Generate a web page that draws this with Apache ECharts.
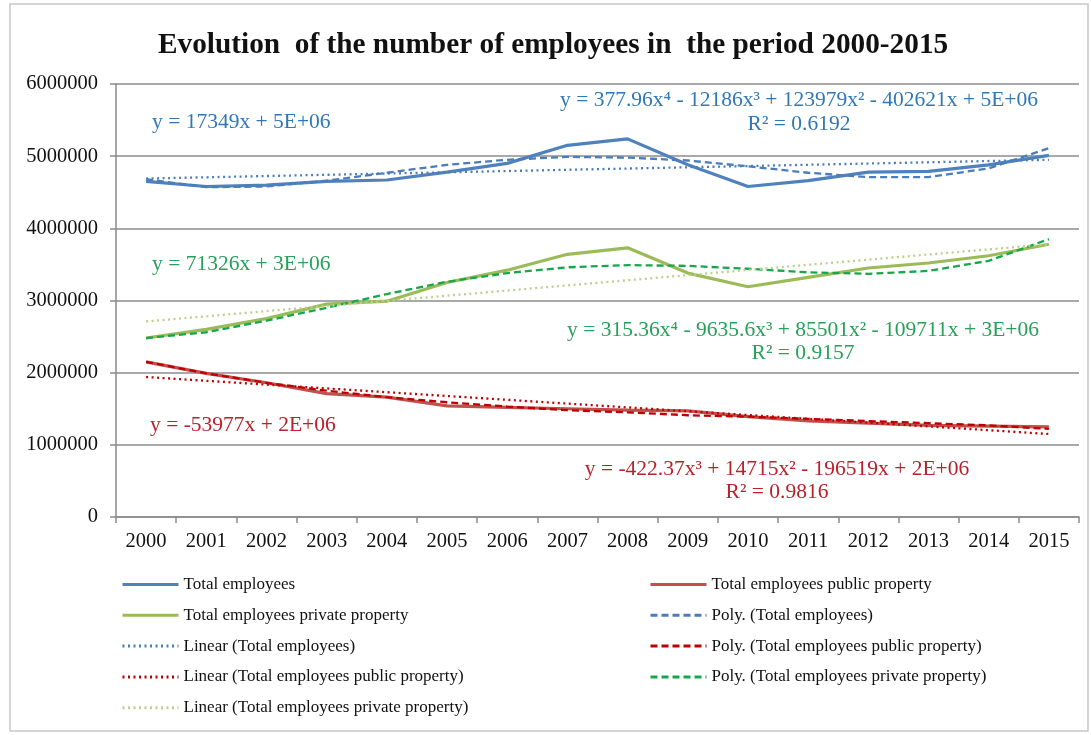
<!DOCTYPE html>
<html>
<head>
<meta charset="utf-8">
<script src="https://cdn.jsdelivr.net/npm/echarts@6/dist/echarts.min.js"></script>
<style>
html,body{margin:0;padding:0;background:#fff;}
#chart{width:1091px;height:735px;}
</style>
</head>
<body>
<div id="chart"></div>
<script>
const years = ['2000','2001','2002','2003','2004','2005','2006','2007','2008','2009','2010','2011','2012','2013','2014','2015'];
const yTicks = [0, 1000000, 2000000, 3000000, 4000000, 5000000, 6000000];

const totalEmployees   = [4650000,4580000,4600000,4650000,4670000,4780000,4900000,5150000,5240000,4880000,4580000,4660000,4780000,4790000,4880000,5010000];
const publicProperty   = [2150000,1990000,1860000,1710000,1660000,1540000,1520000,1500000,1480000,1470000,1390000,1330000,1300000,1270000,1260000,1250000];
const privateProperty  = [2480000,2600000,2750000,2950000,2990000,3250000,3420000,3640000,3730000,3380000,3190000,3320000,3450000,3520000,3620000,3780000];

const polyTotal   = [4680000,4570000,4580000,4660000,4770000,4880000,4950000,4990000,4980000,4940000,4860000,4770000,4710000,4710000,4830000,5110000];
const polyPublic  = [2150000,1990000,1860000,1750000,1660000,1590000,1530000,1480000,1450000,1410000,1390000,1360000,1330000,1300000,1270000,1220000];
const polyPrivate = [2480000,2560000,2720000,2900000,3090000,3260000,3380000,3460000,3490000,3480000,3440000,3390000,3370000,3410000,3550000,3850000];

const linearTotal   = [['2000',4690000],['2015',4950000]];
const linearPublic  = [['2000',1940000],['2015',1150000]];
const linearPrivate = [['2000',2710000],['2015',3780000]];

const eqLinTotal = 'y = 17349x + 5E+06';
const eqPolyTotal = 'y = 377.96x⁴ - 12186x³ + 123979x² - 402621x + 5E+06';
const r2Total = 'R² = 0.6192';
const eqLinPrivate = 'y = 71326x + 3E+06';
const eqPolyPrivate = 'y = 315.36x⁴ - 9635.6x³ + 85501x² - 109711x + 3E+06';
const r2Private = 'R² = 0.9157';
const eqLinPublic = 'y = -53977x + 2E+06';
const eqPolyPublic = 'y = -422.37x³ + 14715x² - 196519x + 2E+06';
const r2Public = 'R² = 0.9816';

const FONT = '"Liberation Serif", "Times New Roman", serif';
const C_BLUE = '#4F81BD', C_RED = '#C0504D', C_GREEN = '#9BBB59';
const C_TBLUE = '#4a7dbb', C_TRED = '#c00000', C_TGREEN = '#14a84a', C_TLGREEN = '#bccf8c';
const T_BLUE = '#2f78b8', T_GREEN = '#27a05a', T_RED = '#b8222a';

function mainLine(name, data, color) {
  return { name, type: 'line', data, symbol: 'none', z: 2,
    lineStyle: { color, width: 3.2 }, itemStyle: { color } };
}
function trend(name, data, color, kind) {
  return { name, type: 'line', data, symbol: 'none', z: 3, silent: true,
    lineStyle: { color, width: 2.3, type: kind === 'dot' ? [2, 3.5] : [7, 4] },
    itemStyle: { color } };
}

const chart = echarts.init(document.getElementById('chart'), null, { renderer: 'canvas' });
const textStyle = { fontFamily: FONT, fontSize: 17, color: '#111' };

function eq(text, x, y, color, align) {
  return { type: 'text', x, y, style: { text, fill: color, font: '21.5px ' + FONT, textAlign: align || 'left', textVerticalAlign: 'middle' }, z: 10 };
}

const legendBase = { orient: 'vertical', top: 576, padding: 0, itemWidth: 56, itemHeight: 14, itemGap: 13.8,
  itemStyle: { opacity: 0 }, lineStyle: { width: 3 }, textStyle };

chart.setOption({
  animation: false,
  backgroundColor: '#fff',
  title: {
    text: 'Evolution  of the number of employees in  the period 2000-2015',
    left: 153, top: 26,
    textStyle: { fontFamily: FONT, fontSize: 29.3, fontWeight: 'bold', color: '#111' }
  },
  grid: { left: 116, right: 12, top: 84, bottom: 218, containLabel: false },
  xAxis: {
    type: 'category', data: years, boundaryGap: true,
    axisLine: { lineStyle: { color: '#8a8a8a', width: 1.5 } },
    axisTick: { show: true, interval: 0, length: 6, lineStyle: { color: '#8a8a8a', width: 1.5 } },
    axisLabel: { interval: 0, margin: 14, fontFamily: FONT, fontSize: 20.5, color: '#111' },
    splitLine: { show: false }
  },
  yAxis: {
    type: 'value', min: yTicks[0], max: yTicks[yTicks.length - 1], interval: yTicks[1] - yTicks[0],
    axisLine: { show: true, lineStyle: { color: '#8a8a8a', width: 1.5 } },
    axisTick: { show: true, length: 6, lineStyle: { color: '#8a8a8a', width: 1.5 } },
    axisLabel: { margin: 18, fontFamily: FONT, fontSize: 20.5, color: '#111', formatter: v => String(v) },
    splitLine: { show: true, lineStyle: { color: '#8c8c8c', width: 1.5 } }
  },
  legend: [
    Object.assign({}, legendBase, { left: 121,
      data: ['Total employees', 'Total employees private property', 'Linear (Total employees)', 'Linear (Total employees public property)', 'Linear (Total employees private property)'] }),
    Object.assign({}, legendBase, { left: 649,
      data: ['Total employees public property', 'Poly. (Total employees)', 'Poly. (Total employees public property)', 'Poly. (Total employees private property)'] })
  ],
  series: [
    mainLine('Total employees', totalEmployees, C_BLUE),
    mainLine('Total employees public property', publicProperty, C_RED),
    mainLine('Total employees private property', privateProperty, C_GREEN),
    trend('Poly. (Total employees)', polyTotal, C_TBLUE, 'dash'),
    trend('Linear (Total employees)', linearTotal, C_TBLUE, 'dot'),
    trend('Poly. (Total employees public property)', polyPublic, C_TRED, 'dash'),
    trend('Linear (Total employees public property)', linearPublic, C_TRED, 'dot'),
    trend('Poly. (Total employees private property)', polyPrivate, C_TGREEN, 'dash'),
    trend('Linear (Total employees private property)', linearPrivate, C_TLGREEN, 'dot')
  ],
  graphic: [
    { type: 'rect', shape: { x: 10, y: 4, width: 1078, height: 727 }, style: { fill: 'none', stroke: '#c8c8c8', lineWidth: 1.5 }, silent: true, z: -1 },
    eq(eqLinTotal, 152, 122, T_BLUE),
    eq(eqPolyTotal, 799, 100, T_BLUE, 'center'),
    eq(r2Total, 799, 124, T_BLUE, 'center'),
    eq(eqLinPrivate, 152, 264, T_GREEN),
    eq(eqPolyPrivate, 803, 330, T_GREEN, 'center'),
    eq(r2Private, 803, 353, T_GREEN, 'center'),
    eq(eqLinPublic, 150, 425, T_RED),
    eq(eqPolyPublic, 777, 469, T_RED, 'center'),
    eq(r2Public, 777, 492, T_RED, 'center')
  ]
});
</script>
</body>
</html>
